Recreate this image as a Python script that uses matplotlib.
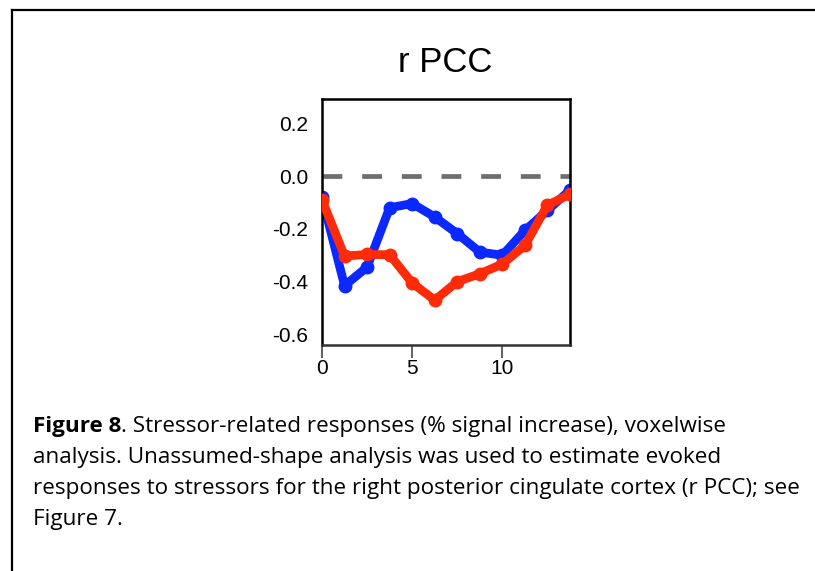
import matplotlib
matplotlib.use("Agg")
import matplotlib.pyplot as plt
from matplotlib.lines import Line2D

# ---- data ----
time_s = [0, 1.25, 2.5, 3.75, 5, 6.25, 7.5, 8.75, 10, 11.25, 12.5, 13.75]
blue_vals = [-0.08, -0.415, -0.345, -0.12, -0.104, -0.155, -0.218, -0.288, -0.30, -0.206, -0.13, -0.053]
red_vals = [-0.09, -0.303, -0.297, -0.298, -0.405, -0.47, -0.40, -0.37, -0.333, -0.263, -0.11, -0.069]
yticks = [0.2, 0.0, -0.2, -0.4, -0.6]
ytick_labels = ["0.2", "0.0", "-0.2", "-0.4", "-0.6"]
xticks = [0, 5, 10]
xtick_labels = ["0", "5", "10"]
title = "r PCC"
caption_bold = "Figure 8"
caption_lines = [
    ". Stressor-related responses (% signal increase), voxelwise",
    "analysis. Unassumed-shape analysis was used to estimate evoked",
    "responses to stressors for the right posterior cingulate cortex (r PCC); see",
    "Figure 7.",
]

W, H = 815, 571
fig = plt.figure(figsize=(W / 100, H / 100), dpi=100)
fig.patch.set_facecolor("white")

# border (top and left lines)
fig.add_artist(Line2D([11.5 / W, 1.0], [1 - 10 / H, 1 - 10 / H], color="black", lw=1.6))
fig.add_artist(Line2D([11.5 / W, 11.5 / W], [1 - 10 / H, 0.0], color="black", lw=1.6))

# axes
ax_l, ax_r, ax_t, ax_b = 322, 570, 99, 345
ax = fig.add_axes([ax_l / W, 1 - ax_b / H, (ax_r - ax_l) / W, (ax_b - ax_t) / H])
ax.set_xlim(0, 13.75)
ax.set_ylim(-0.64, 0.292)

ax.axhline(0, color="#6e6e6e", lw=3.4, dashes=(4.2, 4.2), zorder=1)
ax.plot(time_s, blue_vals, color="#0a28ff", lw=6.3, marker="o", ms=9, zorder=2,
        solid_capstyle="round", solid_joinstyle="round")
ax.plot(time_s, red_vals, color="#ff2a08", lw=6.3, marker="o", ms=9, zorder=3,
        solid_capstyle="round", solid_joinstyle="round")

ax.set_yticks(yticks)
ax.set_yticklabels(ytick_labels, fontsize=15, family="Liberation Sans")
ax.set_xticks(xticks)
ax.set_xticklabels(xtick_labels, fontsize=15, family="Liberation Sans")
ax.tick_params(axis="y", length=0, pad=10)
ax.tick_params(axis="x", length=9, width=1.3, color="#555555", pad=1.0, direction="out")
for s in ["left", "top", "right"]:
    ax.spines[s].set_linewidth(1.8)
    ax.spines[s].set_color("black")
ax.spines["bottom"].set_linewidth(1.8)
ax.spines["bottom"].set_color("#333333")

# title
fig.text(445 / W, 1 - 71.7 / H, title, ha="center", va="baseline",
         fontsize=25, family="Liberation Sans")

# caption
cap_font = ["Open Sans", "DejaVu Sans"]
renderer = fig.canvas.get_renderer()
probe = fig.text(0, 0, caption_lines[2], fontsize=16, family=cap_font)
w = probe.get_window_extent(renderer).width
probe.remove()
cap_size = 16 * 768 / w

x0 = 32.7
baselines = [431.7, 463.0, 494.0, 525.0]
tb = fig.text(x0 / W, 1 - baselines[0] / H, caption_bold, ha="left", va="baseline",
              fontsize=cap_size, family=cap_font, weight="bold")
bw = tb.get_window_extent(renderer).width
fig.text((x0 + bw) / W, 1 - baselines[0] / H, caption_lines[0], ha="left", va="baseline",
         fontsize=cap_size, family=cap_font)
for line, yb in zip(caption_lines[1:], baselines[1:]):
    fig.text(x0 / W, 1 - yb / H, line, ha="left", va="baseline",
             fontsize=cap_size, family=cap_font)

fig.savefig("out.png", dpi=100, facecolor="white")
